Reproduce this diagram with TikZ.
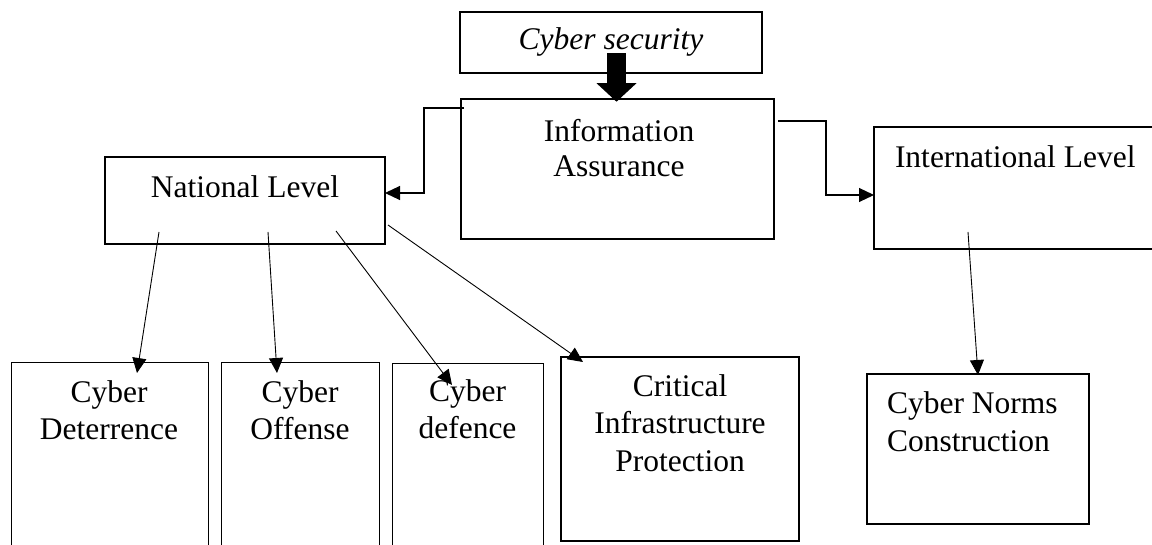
\documentclass[tikz,border=0pt]{standalone}
\usepackage{fontspec}
\setmainfont{Liberation Serif}
\usetikzlibrary{arrows.meta}
\begin{document}
\begin{tikzpicture}[x=1pt,y=-1pt,
  box/.style={draw=black, line width=1.2pt, inner sep=0pt, outer sep=0pt},
  thinbox/.style={box, line width=0.9pt},
  boldbox/.style={box, line width=2pt},
  lbl/.style={inner sep=0pt, outer sep=0pt, anchor=base, align=center,
              font=\fontsize{31.5}{37}\selectfont},
  lblleft/.style={lbl, align=left, anchor=base west},
  link/.style={draw=black, line width=0.9pt, -{Triangle[length=15pt,width=14pt]}},
  elbow/.style={link, line width=1.1pt},
]
\useasboundingbox (0,0) rectangle (1152,545);
\clip (0,0) rectangle (1152,545);

% boxes
\node[box, line width=1.5pt, minimum width=302pt, minimum height=61pt] (cs) at (611,42.5) {};
\node[box, minimum width=313pt, minimum height=140pt] (ia) at (617.5,169) {};
\node[boldbox, minimum width=280pt, minimum height=87pt] (nl) at (245,200.5) {};
\node[box, minimum width=288pt, minimum height=122pt] (il) at (1018,188) {};
\node[thinbox, minimum width=197pt, minimum height=198pt] (det) at (109.5,461) {};
\node[thinbox, minimum width=158pt, minimum height=198pt] (off) at (300,461) {};
\node[thinbox, minimum width=151pt, minimum height=197pt] (def) at (467.5,461.5) {};
\node[box, minimum width=238pt, minimum height=184pt] (cip) at (680,449) {};
\node[boldbox, minimum width=222pt, minimum height=150pt] (cnc) at (978,449) {};

% labels (base anchor sits on the last line of each label)
\node[lbl, font=\fontsize{31.5}{37}\selectfont\itshape] (cstext) at (611,50) {Cyber security};
\node[lbl, font=\fontsize{31.5}{35}\selectfont] (iatext) at (619,176.7) {Information\\Assurance};
\node[lbl] (nltext) at (245,198) {National Level};
\node[lblleft] (iltext) at (895,168) {International Level};
\node[lbl] (dettext) at (109,439) {Cyber\\Deterrence};
\node[lbl] (offtext) at (300,439) {Cyber\\Offense};
\node[lbl] (deftext) at (467.5,438.5) {Cyber\\defence};
\node[lbl] (ciptext) at (680,471) {Critical\\Infrastructure\\Protection};
\node[lblleft, font=\fontsize{31.5}{38}\selectfont] (cnctext) at (887,451) {Cyber Norms\\Construction};

% connector end points
\coordinate (csout) at (616.5,53.3);
\coordinate (iain) at (616.5,101.7);
\coordinate (ialeft) at (464,108);
\coordinate (nlin) at (385,193);
\coordinate (iaright) at (778,121);
\coordinate (ilin) at (874,195);
\coordinate (nlout1) at (159,232);
\coordinate (detin) at (137,373);
\coordinate (nlout2) at (268,232);
\coordinate (offin) at (277,373);
\coordinate (nlout3) at (336,231);
\coordinate (defin) at (452,385);
\coordinate (nlout4) at (388,225);
\coordinate (cipin) at (583,362);
\coordinate (ilout) at (968,232);
\coordinate (cncin) at (978,375);

% connectors
\draw[line width=18.7pt, -{Triangle[length=18.5pt,width=40pt,line width=0pt]}] (csout) -- (iain);
\draw[elbow] (ialeft) -- (ialeft -| 424,0) |- (nlin);
\draw[elbow] (iaright) -- (iaright -| 826,0) |- (ilin);
\draw[link] (nlout1) -- (detin);
\draw[link] (nlout2) -- (offin);
\draw[link] (nlout3) -- (defin);
\draw[link] (nlout4) -- (cipin);
\draw[link] (ilout) -- (cncin);
\end{tikzpicture}
\end{document}
